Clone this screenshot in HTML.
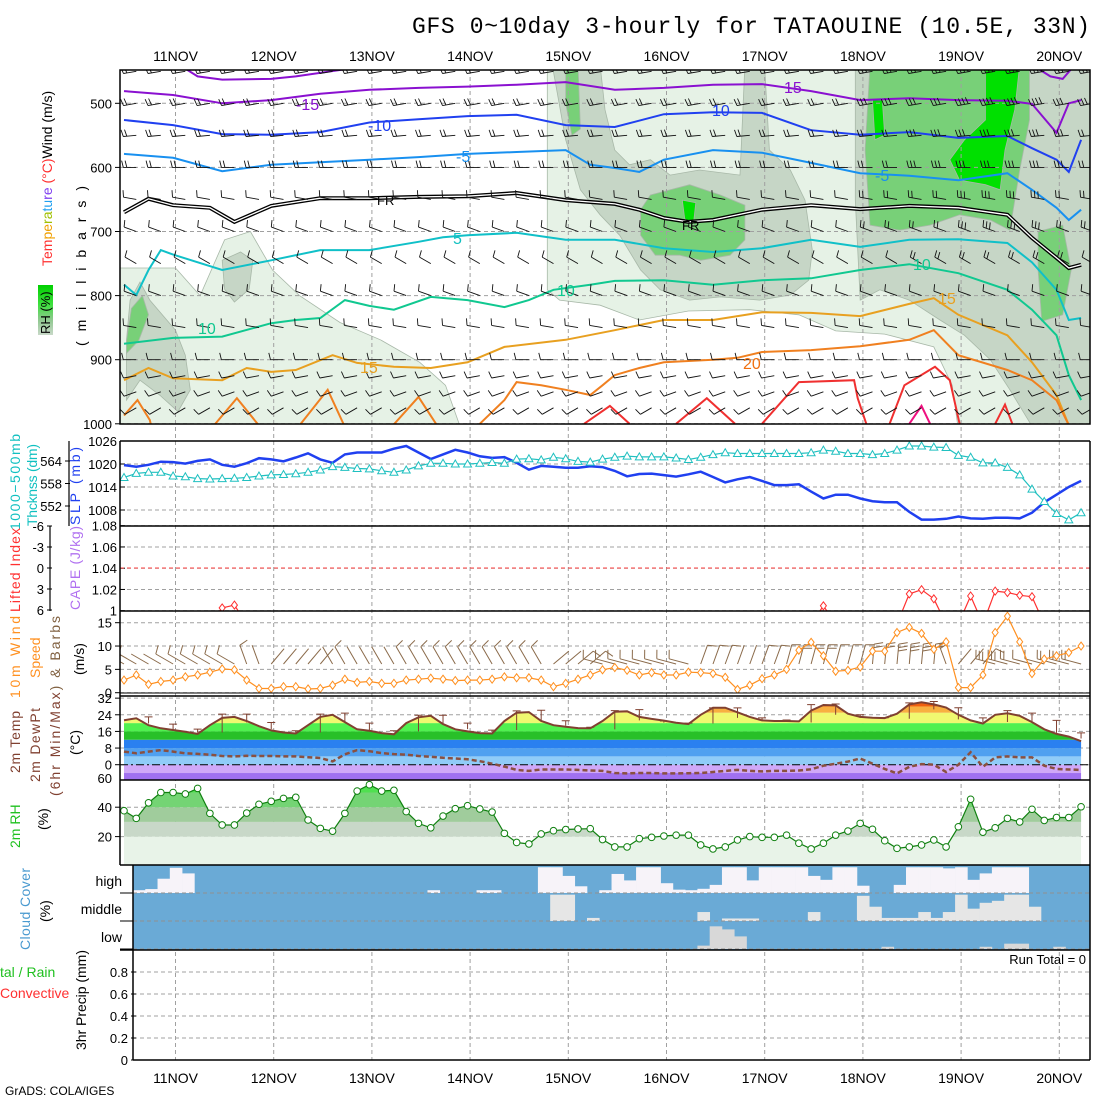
<!DOCTYPE html>
<html><head><meta charset="utf-8">
<style>
body{margin:0;background:#fff}
svg{display:block;font-family:"Liberation Sans",sans-serif}
</style></head>
<body>
<svg id="c" xmlns="http://www.w3.org/2000/svg" width="1100" height="1100" viewBox="0 0 1100 1100">
<defs>
<clipPath id="cm"><rect x="120" y="70" width="970" height="354"/></clipPath>
<clipPath id="c2"><rect x="120" y="441" width="970" height="85"/></clipPath>
<clipPath id="c3"><rect x="120" y="526" width="970" height="85"/></clipPath>
<clipPath id="c4"><rect x="120" y="611" width="970" height="82"/></clipPath>
<clipPath id="c5"><rect x="120" y="695" width="970" height="85"/></clipPath>
<clipPath id="c6"><rect x="120" y="780" width="970" height="85"/></clipPath>
<clipPath id="c7"><rect x="133" y="865" width="957" height="85"/></clipPath>
<linearGradient id="rhg" x1="0" y1="0" x2="0" y2="1"><stop offset="0" stop-color="#00d000"/><stop offset="0.4" stop-color="#40e040"/><stop offset="0.7" stop-color="#90c890"/><stop offset="1" stop-color="#c8d8c8"/></linearGradient>
</defs>
<rect x="0" y="0" width="1100" height="1100" fill="#fff"/>
<text x="1090" y="33" text-anchor="end" font-family="Liberation Mono, monospace" font-size="23" textLength="678">GFS 0~10day 3-hourly for TATAOUINE (10.5E, 33N)</text>
<g id="fills"></g>
<g id="grid"></g>
<g id="marks"></g>
<g id="frames" stroke="#000" fill="none">
<rect x="120" y="70" width="970" height="354" stroke-width="1.5"/>
<line x1="120" y1="441" x2="1090" y2="441" stroke-width="1.5"/>
<line x1="120" y1="526" x2="1090" y2="526" stroke-width="1.5"/>
<line x1="120" y1="611" x2="1090" y2="611" stroke-width="1.5"/>
<line x1="120" y1="693" x2="1090" y2="693" stroke-width="1"/>
<line x1="120" y1="696" x2="1090" y2="696" stroke-width="1.5"/>
<line x1="120" y1="780" x2="1090" y2="780" stroke-width="1.5"/>
<line x1="120" y1="865" x2="1090" y2="865" stroke-width="1.5"/>
<line x1="120" y1="950" x2="1090" y2="950" stroke-width="1.5"/>
<line x1="133" y1="1060" x2="1090" y2="1060" stroke-width="1.5"/>
<line x1="120" y1="441" x2="120" y2="865" stroke-width="1.5"/>
<line x1="133" y1="865" x2="133" y2="1060" stroke-width="1.5"/>
<line x1="1090" y1="441" x2="1090" y2="1060" stroke-width="1.5"/>
<line x1="69" y1="441" x2="69" y2="526" stroke-width="1.2"/>
<line x1="50" y1="526" x2="50" y2="611" stroke-width="1.2"/>
</g>
<g id="ticklabels" font-size="13" fill="#000"></g>
<g font-size="16">
<text x="296" y="110" fill="#8a10d0">-15</text>
<text x="784" y="93" fill="#8a10d0">15</text>
<text x="368" y="131" fill="#2040f0">-10</text>
<text x="712" y="116" fill="#2040f0">10</text>
<text x="456" y="162" fill="#1890f0">-5</text>
<text x="875" y="181" fill="#1890f0">-5</text>
<text x="377" y="205" fill="#000" font-size="13">FR</text>
<text x="682" y="230" fill="#000" font-size="13">FR</text>
<text x="453" y="244" fill="#10c0c0">5</text>
<text x="198" y="334" fill="#10c890">10</text>
<text x="557" y="296" fill="#10c890">10</text>
<text x="913" y="270" fill="#10c890">10</text>
<text x="360" y="373" fill="#e8a020">15</text>
<text x="938" y="304" fill="#e8a020">15</text>
<text x="743" y="369" fill="#f07010">20</text>
</g>
<g font-size="14">
<text transform="rotate(-90 52 266)" x="52" y="266"><tspan fill="#ff3030">Tem</tspan><tspan fill="#f0a000">pe</tspan><tspan fill="#a0c000">ra</tspan><tspan fill="#20a0f0">tu</tspan><tspan fill="#8040f0">re</tspan><tspan fill="#ff3030"> (°C)</tspan><tspan fill="#000">Wind (m/s)</tspan></text>
<rect x="38" y="285" width="15" height="50" fill="url(#rhg)"/>
<text transform="rotate(-90 50 334)" x="50" y="334" font-size="13" fill="#000">RH (%)</text>
<text transform="rotate(-90 86 346)" x="86" y="346" textLength="160" fill="#000">(millibars)</text>
<text transform="rotate(-90 20 530)" x="20" y="530" fill="#10c0c0" textLength="96">1000−500mb</text>
<text transform="rotate(-90 37 526)" x="37" y="526" fill="#10c0c0" textLength="82">Thcknss (dm)</text>
<text transform="rotate(-90 80 525)" x="80" y="525" fill="#2040f0" textLength="78">SLP (mb)</text>
<text transform="rotate(-90 20 612)" x="20" y="612" fill="#ff3030" textLength="84">Lifted Index</text>
<text transform="rotate(-90 80 610)" x="80" y="610" fill="#b070f0" textLength="84">CAPE (J/kg)</text>
<text transform="rotate(-90 20 698)" x="20" y="698" fill="#ff9020" textLength="82">10m Wind</text>
<text transform="rotate(-90 40 678)" x="40" y="678" fill="#ff9020">Speed</text>
<text transform="rotate(-90 60 796)" x="60" y="796" textLength="180"><tspan fill="#804030">(6hr Min/Max</tspan><tspan fill="#806040">) &amp; Barbs</tspan></text>
<text transform="rotate(-90 84 675)" x="84" y="675" fill="#000">(m/s)</text>
<text transform="rotate(-90 20 773)" x="20" y="773" fill="#804030" textLength="62">2m Temp</text>
<text transform="rotate(-90 40 782)" x="40" y="782" fill="#804030" textLength="74">2m DewPt</text>
<text transform="rotate(-90 80 755)" x="80" y="755" fill="#000">(°C)</text>
<text transform="rotate(-90 20 848)" x="20" y="848" fill="#20c020">2m RH</text>
<text transform="rotate(-90 48 830)" x="48" y="830" fill="#000">(%)</text>
<text transform="rotate(-90 30 950)" x="30" y="950" fill="#4a9ad0" textLength="82">Cloud Cover</text>
<text transform="rotate(-90 50 922)" x="50" y="922" fill="#000">(%)</text>
<text x="0" y="977" fill="#20c020">tal / Rain</text>
<text x="0" y="998" fill="#ff3030">Convective</text>
<text transform="rotate(-90 86 1050)" x="86" y="1050" fill="#000" textLength="100">3hr Precip (mm)</text>
</g>
<text x="122" y="886" text-anchor="end" font-size="14">high</text>
<text x="122" y="914" text-anchor="end" font-size="14">middle</text>
<text x="122" y="942" text-anchor="end" font-size="14">low</text>
<text x="1086" y="964" text-anchor="end" font-size="13">Run Total = 0</text>
<text x="5" y="1095" font-size="12">GrADS: COLA/IGES</text>
</svg>
<script>
// ---------- data ----------
const days = ["11NOV","12NOV","13NOV","14NOV","15NOV","16NOV","17NOV","18NOV","19NOV","20NOV"];
const pTicks = [500,600,700,800,900,1000];
const slpTicks = [1008,1014,1020,1026];
const thickTicks = [552,558,564];
const capeTicks = [1,1.02,1.04,1.06,1.08];
const liTicks = [6,3,0,-3,-6];
const windTicks = [0,5,10,15];
const tempTicks = [0,8,16,24,32];
const rhTicks = [20,40];
const precipTicks = [0,0.2,0.4,0.6,0.8];

const slp = [1019.7,1019.3,1019.8,1020.6,1020.5,1020.1,1020.8,1021.2,1019.8,1019.3,1020.2,1021.5,1021.2,1020.7,1021.7,1022.8,1021.2,1020.3,1022.5,1023,1023,1023,1024,1024.7,1023,1021.3,1022.5,1023.7,1023,1022,1021.6,1021.8,1020.3,1018.5,1019.5,1019.3,1019,1019,1019.4,1019.2,1018.2,1016.8,1017.4,1017.5,1017.1,1016.7,1017.3,1018,1016.6,1015.2,1016,1016.6,1015.6,1014.5,1014.5,1014.7,1012.8,1011,1012,1012,1011,1010.3,1010,1010,1007.5,1005.5,1005.5,1005.7,1006.3,1005.8,1005.7,1006,1006,1005.8,1007.3,1010,1012,1014,1015.6];
const thick = [559.6,560.7,561,561,560,559.8,559.3,559.2,559.3,559.4,559.6,560,560.3,560.4,560.6,561,561.6,562.5,562.3,562,561.9,561.4,561,561.6,562.7,563.4,563.4,563.2,563.2,563.4,563.6,563.4,564.5,564.6,564.3,565,564.6,563.9,563.7,564.5,565,565.3,565.1,565.1,565.1,564.8,564.4,565,565.7,566.2,566,566,566,566,566,566,566.2,566.9,566.6,566,566,565.7,566,566.9,568,568,567.7,567.6,565.5,565,563.5,563.5,562.3,560.3,556.5,553.2,550,548.3,550.2];
const liftedIndex = [8,8,8,8,8,8,8,8,5.7,5.3,8,8,8,8,8,8,8,8,8,8,8,8,8,8,8,8,8,8,8,8,8,8,8,8,8,8,8,8,8,8,8,8,8,8,8,8,8,8,8,8,8,8,8,8,8,8,8,5.4,8,8,8,8,8,8,3.7,3.1,4.4,8,8,4.0,8,3.3,3.5,3.9,4.1,8,8,8,8];
const wind10 = [2.7,3.8,1.8,2.4,2.7,3.4,3.8,4.4,5.1,4.9,2.7,0.9,0.9,1.3,1.3,0.8,0.9,1.6,2.9,2.2,2.4,2,2,2.7,2.9,3.1,2.9,2.6,2.7,2.7,2.9,3.4,3.2,3.2,2.7,1.3,2,2.9,3.8,4.9,5.4,4.8,3.8,4.3,3.8,3.8,4.4,4.3,4.1,3.3,0.7,1.6,3,3.8,5,9.1,10.8,7.9,4.6,4.8,5.5,8.9,8.9,12.9,14,12.7,9.3,10.9,1.1,1.1,3.8,12.9,16.4,10.9,4.1,7.2,7.9,8.6,10];
const dir10 = [300,300,300,300,300,300,300,300,300,300,340,340,40,40,40,40,40,330,330,330,330,330,330,330,330,330,330,330,330,330,330,330,330,330,330,50,50,50,50,285,285,285,285,285,285,285,285,20,20,20,20,20,20,20,15,15,15,15,15,15,15,5,5,5,5,5,5,340,40,40,40,285,285,285,285,285,285,285,285];
const temp2m = [21.4,22.3,19,17.5,16.7,15.8,14.8,19,22.5,23,21,18.5,16.5,15.5,15,19,23,24,20.5,17,16.3,15.2,14.6,20,22.8,23.5,19.5,17,16,15.2,15,21,25,25.3,21,19,18.2,17.6,17.5,21,25.5,25.7,23,22,21.2,20.2,19.5,24,27.4,27.4,25.2,23,21.3,21,21,20.8,26,28.7,28.5,24.5,23,22.6,22.4,24.5,29,30,29,27.5,24,21.3,19.8,24,24.7,23.5,20.5,17,14.8,13.5,11.3];
const dewpt = [6.3,5.5,6.3,7,6.3,5.5,5.2,4.8,4.2,4,4.3,4.2,4.2,4,4,3.6,3.2,1.6,5,7,6.5,5.6,5.1,4.8,4.2,3.8,3.3,3,2.6,1.7,0.5,-0.9,-2.5,-3,-2.3,-2.3,-2.3,-2.5,-2.8,-3,-4,-4.2,-4,-4,-4.2,-4.2,-4.1,-4,-3.5,-3,-2.5,-3,-3.2,-3,-3,-2.8,-2.2,-0.5,0.5,1.5,3,0.5,-2,-4.2,-1,0.3,0,-3.5,0,6,-1,3.5,4,3.5,3.5,-0.5,-2,-2.3,-2.5];
const minMaxIdx = [2,4,6,8,10,12,14,16,18,20,22,24,26,28,30,32,34,36,38,40,42,44,46,48,50,52,54,56,58,60,62,64,66,68,70,72,74,76,78];
const tmax6 = [23,19.5,17.1,24.3,24.3,20.3,16.3,24.3,24.8,20,16.3,23.8,23.8,20,16.6,25.9,26.2,21.1,18,26,26.5,21,20,27.3,27.3,22.5,21.5,28.9,29.2,24,22.6,29.7,30.4,27.4,22.5,26,24.8,21.3,15.3];
const tmin6 = [19.8,17.1,15.5,15.5,20.3,17.1,15.5,15.5,20.3,16.3,16,16,20,17.1,16,16.6,21.1,18.7,17.5,17,21.3,20.2,19.5,19.8,22.5,21,21,20.3,24,22.5,22.4,22.1,26.6,21.8,20.5,20.5,20.5,15.3,12.6];
const rh2m = [37.6,32.4,43,50,50,49,52.8,35.8,27.9,27.9,36,42,44,46,46.7,31.3,25.6,23.7,35.8,51,55.3,51,51.5,37,29,26,34,39,41,38.8,36.7,22.2,16,15,21.8,24,24.8,25.2,25.4,18,13,13,18.6,19.5,20.4,21,21,14.3,11.6,13,17.7,20,19.5,19.5,21,15.5,11.6,15.5,21,23.8,29,25,17.2,12,13,14.3,17.7,13,26.7,45.4,23,26,32.4,30,38.6,31,33,33,40.3];
const cloudHigh = [10,14,51,90,70,0,0,0,0,0,0,0,0,0,0,0,0,0,0,0,0,0,0,0,10,0,0,0,10,10,0,0,0,92,92,61,24,0,10,68,45,92,92,35,12,10,15,29,92,92,45,92,92,92,92,61,47,92,92,26,0,0,29,92,92,92,88,92,47,70,92,92,92,0,0,0,0,0];
const cloudMid = [0,0,0,0,0,0,0,0,0,0,0,0,0,0,0,0,0,0,0,0,0,0,0,0,0,0,0,0,0,0,0,0,0,0,94,94,0,11,0,0,0,0,0,0,0,0,32,0,9,9,9,0,0,0,0,32,0,0,0,90,51,11,11,11,32,11,32,94,44,65,72,94,94,51,0,0,0,0];
const cloudLow = [0,0,0,0,0,0,0,0,0,0,0,0,0,0,0,0,0,0,0,0,0,0,0,0,0,0,0,0,0,0,0,0,0,0,0,0,0,0,0,0,0,0,0,0,0,0,12,81,70,45,0,0,0,0,0,0,0,0,0,0,0,8,0,0,0,0,0,0,0,8,0,19,19,0,0,8,0,0];

// isotherms: time index / pressure (mb)
const isoM20aT = [4.5,6,8,12,14,18,20];
const isoM20aP = [440,458,463,462,458,447,440];
const isoM20bT = [74,75.5,76.5,77.5];
const isoM20bP = [440,458,462,440];
const isoM15T = [0,4,8,12,16,20,24,28,32,36,40,44,48,52,56,60,64,68,72,74,76,77,78];
const isoM15P = [481,487,500,495,485,479,476,474,471,467,479,476,471,470,481,495,492,495,496,501,546,500,495];
const isoM10T = [0,4,8,12,16,20,24,28,32,36,40,44,48,52,56,60,64,68,72,74,76,77,78];
const isoM10P = [526,534,548,549,545,530,525,520,518,534,537,517,514,515,542,549,545,554,551,570,588,607,557];
const isoM5T = [0,4,8,12,16,20,24,28,32,36,38,40,42,44,48,52,56,60,64,68,72,74,76,77,78];
const isoM5P = [579,585,606,596,592,588,584,579,576,573,596,601,607,588,573,577,593,609,613,620,609,635,663,682,666];
const frzT = [0,2,4,7,9,12,16,20,24,28,32,36,40,42,44,46,48,52,56,60,64,68,72,74,76,77,78];
const frzP = [670,649,659,663,685,660,648,648,646,645,640,651,657,666,679,685,682,666,659,665,660,663,674,710,741,757,752];
const iso5T = [0,1,2,3,4,8,12,16,20,24,26,28,32,36,40,44,48,52,56,60,64,68,72,74,76,77,78];
const iso5P = [783,799,760,729,736,760,745,729,729,716,709,706,702,713,713,726,732,726,713,724,713,712,718,748,791,838,835];
const iso10T = [0,4,8,12,14,16,18,20,22,25,28,31,33,35,38,40,44,48,52,56,60,64,68,72,74,76,77,78];
const iso10P = [875,866,864,843,838,835,807,816,822,802,807,818,807,791,783,777,776,783,776,773,760,751,765,791,822,862,924,963];
const iso15T = [0,2,4,8,10,12,14,17,19,22,25,28,31,36,40,42,44,48,52,56,60,64,66,68,72,74,76,77];
const iso15P = [932,913,929,932,913,919,916,893,905,911,913,904,880,869,854,846,838,838,826,827,832,813,804,830,862,904,955,1002];
const iso20T = [29,31,32,34,36,38,39,40,42,44,48,50,52,56,60,64,66,68,72,74,76,77];
const iso20P = [1000,963,935,940,947,955,940,924,913,904,900,897,888,885,879,869,854,893,916,932,963,1002];
const bump20aT = [0,1.1,2.1,2.3], bump20aP = [987,963,994,1010];
const bump20bT = [7,9.2,11.3], bump20bP = [1010,960,1010];
const bump20cT = [14.2,16.6,18], bump20cP = [1005,947,1005];
const bump20dT = [21.8,24,25.6], bump20dP = [1005,958,1005];
const iso25aT = [37.5,39.6,41.2], iso25aP = [1000,972,1000];
const iso25bT = [45,47.5,49.8], iso25bP = [1000,960,1000];
const iso25cT = [52,55,59.5,59.8,60.5], iso25cP = [1000,935,932,960,1000];
const iso25dT = [62.4,63.6,66.1,67.3,68.1], iso25dP = [1000,940,911,932,1000];
const iso25eT = [71,71.8,72.4], iso25eP = [1000,970,1000];
const iso30T = [64,65,65.7], iso30P = [1000,972,1000];

// RH shading polygons (time index, pressure)
const rhLight1T = [-1,0,4.2,6.2,8.2,10.3,12.1,14.3,17.6,20.9,24.1,26.2,27.5,-1];
const rhLight1P = [757,757,757,800,713,700,760,800,842,869,904,940,1010,1010];
const rhLight2T = [34.5,80,80,68,67.5,66,62,58,55,51,46,42,38.8,35.5,34.5];
const rhLight2P = [440,440,1010,1010,940,880,860,855,830,822,824,838,815,807,791];
const rhGray1T = [0.2,0.5,1.3,2.1,4.2,5,5.4,4.4,2.9,1.3,0.2];
const rhGray1P = [869,807,779,807,854,893,947,981,955,932,963];
const rhGray2T = [8,9.5,10.5,10.2,9,8.2];
const rhGray2P = [745,732,745,790,810,790];
const rhGray3T = [34.9,38.8,39.2,40,41.2,42.9,44.5,46.9,50.2,50.6,52.2,52.6,54.3,55.5,56.1,55.8,54.3,51.8,48.6,46.1,43.7,42.1,40.4,38.8,37.2,36];
const rhGray3P = [440,440,510,573,596,588,612,604,612,440,440,573,604,651,729,776,799,807,802,807,791,760,706,674,635,557];
const rhGray4T = [59.6,80,80,74.2,72.2,70.6,68.5,66.5,64,61.6,60,59.6];
const rhGray4P = [440,440,1010,1010,947,900,862,838,807,791,807,651];
const rhGreen1T = [0.2,0.6,1.5,2,1.2,0.2], rhGreen1P = [870,820,800,830,870,890];
const rhGreen2T = [42.9,46.1,48.6,50.6,50.6,49.4,47,45.3,43.3,42.1,42.1];
const rhGreen2P = [643,627,643,659,713,737,745,737,737,706,666];
const rhGreen3T = [60.8,73.8,73.8,73,72.2,70.6,68.1,65.7,63.2,60.8,60.4];
const rhGreen3P = [440,440,526,604,698,682,674,690,698,690,573];
const rhGreen4T = [74.5,76.5,77.2,76.5,74.8,74.5], rhGreen4P = [700,690,760,830,840,760];
const rhGreen5T = [36,37,37.2,36.5,36], rhGreen5P = [440,440,540,550,500];
const rhBright1T = [70.2,73,72.6,71.8,71.4,70.2,68.1,67.3,68.5,70.2];
const rhBright1P = [440,440,510,573,635,627,620,588,557,526];
const rhBright2T = [61,61.8,62,61.2], rhBright2P = [495,495,550,557];
const rhBright3T = [45.5,46.6,46.4,45.7], rhBright3P = [651,655,690,680];

// upper-air wind barbs
const barbLevels = [1000,975,950,925,900,850,800,750,700,650,600,550,500,450];
const barbLevelDir = [230,240,250,260,270,280,290,300,290,280,270,265,260,260];
const barbLevelSpd = [5,5,5,5,5,5,5,5,7,7,8,8,10,10];
const barbColBoost = [1,1,1,1,1,1,1,1,1,1,1,1,1,1,1,1,1,1,1,1,1,1,1,1,1,1,1,1,1,1,1.3,1.3,1.6,1.6,2,2,2,2,1.6,1.3];

// ---------- scales ----------
const NS = "http://www.w3.org/2000/svg";
const X = i => 124 + i * 12.27;
const XD = d => 175.5 + d * 98.2;
const YP = p => 103.3 + (p - 500) * 0.641;
const YSLP = v => 441 + (1026 - v) * 3.833;
const YTH = v => 461 + (564 - v) * 3.75;
const YCAPE = v => 610.7 - (v - 1) * 1062.5;
const YLI = v => 568 + v * 7;
const YW = v => 692.7 - v * 4.667;
const YT = v => 764.7 - v * 2.08;
const YRH = v => 866 - v * 1.47;
const YPR = v => 1060 - v * 110;
const svg = document.getElementById('c');
function mk(tag, attrs, parent) {
  const e = document.createElementNS(NS, tag);
  for (const k in attrs) e.setAttribute(k, attrs[k]);
  parent.appendChild(e);
  return e;
}
const G = id => document.getElementById(id);
const fills = G('fills'), grid = G('grid'), marks = G('marks'), tl = G('ticklabels');
const pts = (ts, ps, fx, fy) => ts.map((t, k) => fx(t).toFixed(1) + ',' + fy(ps[k]).toFixed(1)).join(' ');

// ---------- main panel RH shading ----------
const gMainFill = mk('g', {'clip-path': 'url(#cm)'}, fills);


const rhPolys = [
  [rhLight1T, rhLight1P, '#e6f2e6'], [rhLight2T, rhLight2P, '#e6f2e6'],
  [rhGray1T, rhGray1P, '#c6d6c6'], [rhGray2T, rhGray2P, '#c6d6c6'],
  [rhGray3T, rhGray3P, '#c6d6c6'], [rhGray4T, rhGray4P, '#c6d6c6'],
  [rhGreen1T, rhGreen1P, '#78d078'], [rhGreen2T, rhGreen2P, '#78d078'],
  [rhGreen3T, rhGreen3P, '#78d078'], [rhGreen4T, rhGreen4P, '#78d078'],
  [rhGreen5T, rhGreen5P, '#78d078'],
  [rhBright1T, rhBright1P, '#00e000'], [rhBright2T, rhBright2P, '#00e000'], [rhBright3T, rhBright3P, '#00e000']
];
rhPolys.forEach(r => {
  const e = mk('polygon', {points: pts(r[0], r[1], X, YP), fill: r[2], stroke: '#a8b8a8', 'stroke-width': 0.8}, gMainFill);
  
  
});

// ---------- grid ----------
days.forEach((d, k) => {
  const l = mk('line', {x1: XD(k), x2: XD(k), y1: 70, y2: 1060, stroke: '#a0a0a0', 'stroke-dasharray': '4,3', 'stroke-width': 1}, grid);
  
  
  const t1 = mk('text', {x: XD(k), y: 61, 'text-anchor': 'middle', 'font-size': 14}, tl);
  t1.textContent = d;
  
  
  const t2 = mk('text', {x: XD(k), y: 1083, 'text-anchor': 'middle', 'font-size': 14}, tl);
  t2.textContent = d;
  
  
});
function hTicks(vals, fy, lx, fmt, gridOn, x0) {
  vals.forEach(v => {
    const y = fy(v);
    if (gridOn) {
      const l = mk('line', {x1: x0 || 120, x2: 1090, y1: y, y2: y, stroke: '#a0a0a0', 'stroke-dasharray': '4,3'}, grid);
      
      
    }
    const tk = mk('line', {x1: lx + 3, x2: lx + 8, y1: y, y2: y, stroke: '#000'}, grid);
    
    
    const t = mk('text', {x: lx, y: y + 5, 'text-anchor': 'end'}, tl);
    t.textContent = fmt ? fmt(v) : v;
    
    
  });
}
hTicks(pTicks, YP, 112, null, true);
hTicks(slpTicks, YSLP, 117, null, true);
hTicks(thickTicks, YTH, 62, null, false);
hTicks(capeTicks, YCAPE, 117, v => v === 1 ? '1' : v.toFixed(2), true);
hTicks(liTicks, YLI, 44, null, false);
hTicks(windTicks, YW, 112, null, true);
hTicks(tempTicks, YT, 112, null, true);
hTicks(rhTicks, YRH, 112, null, true);
hTicks(precipTicks, YPR, 128, v => v === 0 ? '0' : v.toFixed(1), true, 133);
[893, 921].forEach(y => {
  const l = mk('line', {x1: 133, x2: 1090, y1: y, y2: y, stroke: '#a0a0a0', 'stroke-dasharray': '4,3'}, grid);
  
  
});
const m60 = mk('text', {x: 112, y: 783, 'text-anchor': 'end'}, tl);
m60.textContent = '60';


const liZero = mk('line', {x1: 120, x2: 1090, y1: YLI(0), y2: YLI(0), stroke: '#ff4040', 'stroke-dasharray': '4,3'}, grid);



// ---------- isotherms ----------
const gIso = mk('g', {'clip-path': 'url(#cm)', fill: 'none'}, marks);


const isoList = [
  [isoM20aT, isoM20aP, '#8a10d0', 'isotherm-minus20'], [isoM20bT, isoM20bP, '#8a10d0', 'isotherm-minus20'],
  [isoM15T, isoM15P, '#8a10d0', 'isotherm-minus15'], [isoM10T, isoM10P, '#2040f0', 'isotherm-minus10'],
  [isoM5T, isoM5P, '#1890f0', 'isotherm-minus5'], [iso5T, iso5P, '#10c0c8', 'isotherm-5'],
  [iso10T, iso10P, '#10c890', 'isotherm-10'], [iso15T, iso15P, '#e8a020', 'isotherm-15'],
  [iso20T, iso20P, '#f08020', 'isotherm-20'], [bump20aT, bump20aP, '#f08020', 'isotherm-20'],
  [bump20bT, bump20bP, '#f08020', 'isotherm-20'], [bump20cT, bump20cP, '#f08020', 'isotherm-20'],
  [bump20dT, bump20dP, '#f08020', 'isotherm-20'], [iso25aT, iso25aP, '#f03030', 'isotherm-25'],
  [iso25bT, iso25bP, '#f03030', 'isotherm-25'], [iso25cT, iso25cP, '#f03030', 'isotherm-25'],
  [iso25dT, iso25dP, '#f03030', 'isotherm-25'], [iso25eT, iso25eP, '#f03030', 'isotherm-25'],
  [iso30T, iso30P, '#f01080', 'isotherm-30']
];
isoList.forEach(s => {
  const e = mk('polyline', {points: pts(s[0], s[1], X, YP), stroke: s[2], 'stroke-width': 2}, gIso);
  
  
});
const fr1 = mk('polyline', {points: pts(frzT, frzP, X, YP), stroke: '#000', 'stroke-width': 4}, gIso);


const fr2 = mk('polyline', {points: pts(frzT, frzP, X, YP), stroke: '#fff', 'stroke-width': 1.3}, gIso);



// ---------- upper-air barbs ----------
const gB = mk('g', {'clip-path': 'url(#cm)', stroke: '#111', 'stroke-width': 0.9, fill: 'none'}, marks);


function barbPath(x, y, dir, spd, len, flen) {
  const a = dir * Math.PI / 180;
  const ux = Math.sin(a), uy = -Math.cos(a);
  const ex = x + ux * len, ey = y + uy * len;
  let d = `M${x.toFixed(1)},${y.toFixed(1)}L${ex.toFixed(1)},${ey.toFixed(1)}`;
  const fa = a + Math.PI * 0.42;
  const fx = Math.sin(fa) * flen, fy = -Math.cos(fa) * flen;
  let n = Math.round(spd / 5);
  for (let k = 0; k < n; k++) {
    const bx = ex - ux * k * 3.5, by = ey - uy * k * 3.5;
    d += `M${bx.toFixed(1)},${by.toFixed(1)}l${fx.toFixed(1)},${fy.toFixed(1)}`;
  }
  return d;
}
barbColBoost.forEach((b, c) => {
  barbLevels.forEach((p, l) => {
    const x = X(c * 2 + 1), y = YP(p);
    const e = mk('path', {d: barbPath(x, y, barbLevelDir[l], barbLevelSpd[l] * (l > 6 ? b : 1), 13, 7)}, gB);
    
    
  });
});

// ---------- SLP & thickness ----------
const g2 = mk('g', {'clip-path': 'url(#c2)', fill: 'none'}, marks);


const idx = slp.map((v, i) => i);
const slpLine = mk('polyline', {points: pts(idx, slp, X, YSLP), stroke: '#2040f0', 'stroke-width': 2.5}, g2);


const thLine = mk('polyline', {points: pts(idx, thick, X, YTH), stroke: '#20c0c0', 'stroke-width': 1.2}, g2);


thick.forEach((v, i) => {
  const x = X(i), y = YTH(v);
  const m = mk('polygon', {points: `${x},${y - 4} ${x - 4},${y + 3} ${x + 4},${y + 3}`, stroke: '#20c0c0', fill: '#fff', 'stroke-width': 1}, g2);
  
  
});

// ---------- LI ----------
const g3 = mk('g', {'clip-path': 'url(#c3)', fill: 'none'}, marks);


for (let i = 0; i < liftedIndex.length - 1; i++) {
  if (liftedIndex[i] < 6.2 || liftedIndex[i + 1] < 6.2) {
    const s = mk('line', {x1: X(i), y1: YLI(liftedIndex[i]), x2: X(i + 1), y2: YLI(liftedIndex[i + 1]), stroke: '#ff3030', 'stroke-width': 1.2}, g3);
    
    
  }
}
liftedIndex.forEach((v, i) => {
  if (v <= 6) {
    const x = X(i), y = YLI(v);
    const m = mk('polygon', {points: `${x},${y - 4} ${x + 3},${y} ${x},${y + 4} ${x - 3},${y}`, stroke: '#ff3030', fill: '#fff'}, g3);
    
    
  }
});

// ---------- 10m wind ----------
const g4 = mk('g', {'clip-path': 'url(#c4)', fill: 'none'}, marks);


dir10.forEach((d, i) => {
  const e = mk('path', {d: barbPath(X(i), 664, d, wind10[i], 20, 9), stroke: '#8a6a4a', 'stroke-width': 1}, g4);
  
  
});
const wl = mk('polyline', {points: pts(idx, wind10, X, YW), stroke: '#ff9020', 'stroke-width': 1.2}, g4);


wind10.forEach((v, i) => {
  const x = X(i), y = YW(v);
  const m = mk('polygon', {points: `${x},${y - 4} ${x + 3},${y} ${x},${y + 4} ${x - 3},${y}`, stroke: '#ff9020', fill: '#fff'}, g4);
  
  
});

// ---------- 2m temperature ----------
const g5 = mk('g', {'clip-path': 'url(#c5)'}, marks);


const tClip = mk('clipPath', {id: 'tclip'}, svg.querySelector('defs'));
mk('polygon', {points: pts(idx, temp2m, X, YT) + ` ${X(78)},782 ${X(0)},782`}, tClip);
const gT = mk('g', {'clip-path': 'url(#tclip)'}, g5);
const tBandLo = [-8,-4,0,4,8,12,16,20,25,28];
const tBandHi = [-4,0,4,8,12,16,20,25,28,40];
const tBandCol = ['#a070f0','#d0a8f8','#90ccf8','#50a0f0','#2a80f0','#28c028','#50f050','#f0f870','#f8b040','#f06010'];
tBandLo.forEach((lo, k) => {
  const r = mk('rect', {x: 120, width: 970, y: YT(tBandHi[k]), height: YT(lo) - YT(tBandHi[k]), fill: tBandCol[k]}, gT);
  
  
});
const zl = mk('line', {x1: 120, x2: 1090, y1: YT(0), y2: YT(0), stroke: '#000', 'stroke-dasharray': '8,3,2,3'}, g5);


const dl = mk('polyline', {points: pts(idx, dewpt, X, YT), stroke: '#8a5040', 'stroke-width': 2.5, fill: 'none', 'stroke-dasharray': '5,3'}, g5);


const tline = mk('polyline', {points: pts(idx, temp2m, X, YT), stroke: '#804030', 'stroke-width': 2, fill: 'none'}, g5);


minMaxIdx.forEach((i, k) => {
  const x = X(i), y1 = YT(tmax6[k]), y2 = YT(tmin6[k]);
  const w = mk('path', {d: `M${x},${y1}V${y2}M${x - 4},${y1}H${x + 4}`, stroke: '#804030', 'stroke-width': 1, fill: 'none'}, g5);
  
  
});

// ---------- 2m RH ----------
const g6 = mk('g', {'clip-path': 'url(#c6)'}, marks);


const rClip = mk('clipPath', {id: 'rclip'}, svg.querySelector('defs'));
mk('polygon', {points: pts(idx, rh2m, X, YRH) + ` ${X(78)},866 ${X(0)},866`}, rClip);
const gR = mk('g', {'clip-path': 'url(#rclip)'}, g6);
const rhBandLo = [0,20,30,40,50];
const rhBandHi = [20,30,40,50,100];
const rhBandCol = ['#e8f3e8','#c8d8c8','#a0cc9c','#74d474','#50e050'];
rhBandLo.forEach((lo, k) => {
  const r = mk('rect', {x: 120, width: 970, y: YRH(rhBandHi[k]), height: YRH(lo) - YRH(rhBandHi[k]), fill: rhBandCol[k]}, gR);
  
  
});
const rl = mk('polyline', {points: pts(idx, rh2m, X, YRH), stroke: '#108010', 'stroke-width': 1.2, fill: 'none'}, g6);


rh2m.forEach((v, i) => {
  const c = mk('circle', {cx: X(i), cy: YRH(v), r: 3.3, fill: '#fff', stroke: '#108010', 'stroke-width': 1}, g6);
  
  
});

// ---------- cloud cover ----------
const g7 = mk('g', {'clip-path': 'url(#c7)'}, marks);


const sky = mk('rect', {x: 133, y: 865, width: 957, height: 85, fill: '#6aaad6'}, g7);


const rows = [[cloudHigh, 893, '#f7f3f9'], [cloudMid, 921, '#e6e6e6'], [cloudLow, 949, '#d8d8d8']];
rows.forEach(r => {
  r[0].forEach((v, k) => {
    if (v <= 0) return;
    const h = v / 100 * 28;
    const b = mk('rect', {x: 133 + k * 12.27, width: 12.6, y: r[1] - h, height: h, fill: r[2]}, g7);
    
    
  });
});
[893, 921, 949].forEach(y => {
  const l = mk('line', {x1: 133, x2: 1090, y1: y, y2: y, stroke: '#909090', 'stroke-dasharray': '4,3'}, g7);
  
  
});
[865, 893, 921, 949].forEach(y => {
  const t = mk('line', {x1: 120, x2: 133, y1: y, y2: y, stroke: '#000'}, grid);
  
  
});
</script>
</body></html>
